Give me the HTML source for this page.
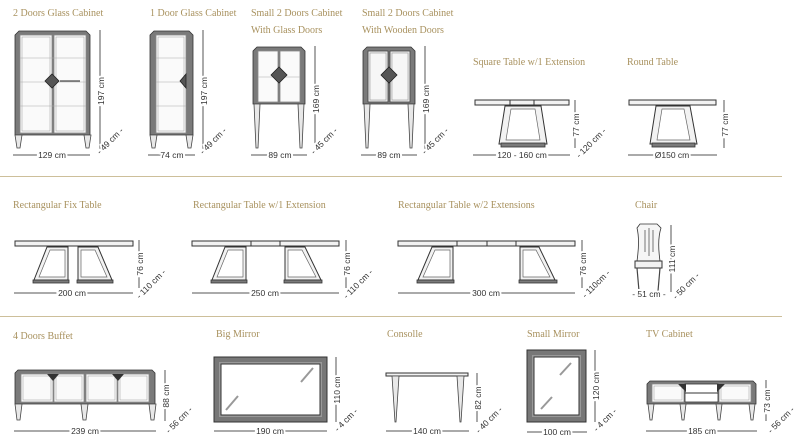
<!DOCTYPE html>
<html><head><meta charset="utf-8"><style>
html,body{margin:0;padding:0;background:#fff;}
svg{display:block}
.t{font-family:"Liberation Serif",serif;font-size:10px;fill:#a8915e;}
.d{font-family:"Liberation Sans",sans-serif;font-size:8.5px;fill:#333;stroke:#fff;stroke-width:4px;paint-order:stroke;}
.dl{stroke:#555;stroke-width:1;fill:none;}
.o{stroke:#333;stroke-width:1;fill:#f2f2f2;}
.k{fill:#7a7a7a;stroke:#333;stroke-width:.8;}
.g{fill:#fafafa;stroke:#888;stroke-width:.8;}
.l{fill:#e8e8e8;stroke:#444;stroke-width:.8;}
</style></head><body>
<svg width="800" height="446" viewBox="0 0 800 446" xmlns="http://www.w3.org/2000/svg">
<line x1="0" y1="176.5" x2="782" y2="176.5" stroke="#cdbf9a" stroke-width="1"/>
<line x1="0" y1="316.5" x2="782" y2="316.5" stroke="#cdbf9a" stroke-width="1"/>

<text class="t" x="13" y="16">2 Doors Glass Cabinet</text>
<text class="t" x="150" y="16">1 Door Glass Cabinet</text>
<text class="t" x="251" y="16">Small  2 Doors Cabinet</text>
<text class="t" x="251" y="33">With Glass Doors</text>
<text class="t" x="362" y="16">Small  2 Doors Cabinet</text>
<text class="t" x="362" y="33">With Wooden Doors</text>
<text class="t" x="473" y="65">Square Table w/1 Extension</text>
<text class="t" x="627" y="65">Round Table</text>

<polygon class="k" points="15,35 19,31 86,31 90,35 90,135 15,135"/>
<rect class="g" x="20" y="35" width="32" height="98"/>
<rect class="g" x="54" y="35" width="32" height="98"/>
<rect x="22" y="37" width="28" height="94" fill="none" stroke="#aaa" stroke-width=".6"/>
<rect x="56" y="37" width="28" height="94" fill="none" stroke="#aaa" stroke-width=".6"/>
<line x1="20" y1="58" x2="86" y2="58" stroke="#aaa" stroke-width=".6"/>
<line x1="20" y1="82" x2="86" y2="82" stroke="#aaa" stroke-width=".6"/>
<line x1="20" y1="106" x2="86" y2="106" stroke="#aaa" stroke-width=".6"/>
<line x1="60" y1="81" x2="80" y2="81" stroke="#222" stroke-width="1"/>
<polygon points="45,81 52,74 59,81 52,88" fill="#555" stroke="#222" stroke-width=".8"/>
<polygon class="l" points="15,135 22,135 20,148 17,148"/>
<polygon class="l" points="84,135 91,135 89,148 86,148"/>
<line class="dl" x1="100" y1="30" x2="100" y2="150"/>
<text class="d" transform="translate(104,91) rotate(-90)" text-anchor="middle">197 cm</text>
<line class="dl" x1="13" y1="155" x2="90" y2="155"/>
<text class="d" x="52" y="158" text-anchor="middle">129 cm</text>
<text class="d" transform="translate(112,143) rotate(-45)" text-anchor="middle">- 49 cm -</text>

<polygon class="k" points="150,35 154,31 189,31 193,35 193,135 150,135"/>
<rect class="g" x="156" y="35" width="30" height="98"/>
<rect x="158" y="37" width="26" height="94" fill="none" stroke="#aaa" stroke-width=".6"/>
<line x1="156" y1="58" x2="186" y2="58" stroke="#aaa" stroke-width=".6"/>
<line x1="156" y1="82" x2="186" y2="82" stroke="#aaa" stroke-width=".6"/>
<line x1="156" y1="106" x2="186" y2="106" stroke="#aaa" stroke-width=".6"/>
<polygon points="180,81 186,74 186,88" fill="#555" stroke="#222" stroke-width=".8"/>
<polygon class="l" points="150,135 157,135 155,148 152,148"/>
<polygon class="l" points="186,135 193,135 191,148 188,148"/>
<line class="dl" x1="203" y1="30" x2="203" y2="150"/>
<text class="d" transform="translate(207,91) rotate(-90)" text-anchor="middle">197 cm</text>
<line class="dl" x1="148" y1="155" x2="195" y2="155"/>
<text class="d" x="172" y="158" text-anchor="middle">74 cm</text>
<text class="d" transform="translate(215,143) rotate(-45)" text-anchor="middle">- 49 cm -</text>

<polygon class="k" points="253,51 257,47 301,47 305,51 305,104 253,104"/>
<rect class="g" x="258" y="51" width="20" height="51"/>
<rect class="g" x="280" y="51" width="20" height="51"/>
<line x1="258" y1="77" x2="300" y2="77" stroke="#aaa" stroke-width=".6"/>
<polygon points="271,75 279,67 287,75 279,83" fill="#555" stroke="#222" stroke-width=".8"/>
<polygon class="l" points="254,104 260,104 258,148 256,148"/>
<polygon class="l" points="298,104 304,104 302,148 300,148"/>
<line class="dl" x1="315" y1="46" x2="315" y2="150"/>
<text class="d" transform="translate(319,99) rotate(-90)" text-anchor="middle">169 cm</text>
<line class="dl" x1="251" y1="155" x2="307" y2="155"/>
<text class="d" x="280" y="158" text-anchor="middle">89 cm</text>
<text class="d" transform="translate(326,143) rotate(-45)" text-anchor="middle">- 45 cm -</text>

<polygon class="k" points="363,51 367,47 411,47 415,51 415,104 363,104"/>
<rect class="l" x="368" y="51" width="20" height="51"/>
<rect class="l" x="390" y="51" width="20" height="51"/>
<rect x="370" y="53" width="16" height="47" fill="#f6f6f6" stroke="#999" stroke-width=".6"/>
<rect x="392" y="53" width="16" height="47" fill="#f6f6f6" stroke="#999" stroke-width=".6"/>
<polygon points="381,75 389,67 397,75 389,83" fill="#555" stroke="#222" stroke-width=".8"/>
<polygon class="l" points="364,104 370,104 368,148 366,148"/>
<polygon class="l" points="408,104 414,104 412,148 410,148"/>
<line class="dl" x1="425" y1="46" x2="425" y2="150"/>
<text class="d" transform="translate(429,99) rotate(-90)" text-anchor="middle">169 cm</text>
<line class="dl" x1="361" y1="155" x2="417" y2="155"/>
<text class="d" x="389" y="158" text-anchor="middle">89 cm</text>
<text class="d" transform="translate(437,143) rotate(-45)" text-anchor="middle">- 45 cm -</text>

<rect class="o" x="475" y="100" width="94" height="5"/>
<line x1="510" y1="100" x2="510" y2="105" stroke="#333"/><line x1="534" y1="100" x2="534" y2="105" stroke="#333"/>
<polygon class="o" points="505,106 541,106 547,144 499,144"/>
<polygon fill="#fff" stroke="#666" stroke-width=".7" points="511,109 535,109 540,140 506,140"/>
<rect class="k" x="501" y="143" width="44" height="4"/>
<line class="dl" x1="575" y1="100" x2="575" y2="148"/>
<text class="d" transform="translate(579,125) rotate(-90)" text-anchor="middle">77 cm</text>
<line class="dl" x1="473" y1="155" x2="570" y2="155"/>
<text class="d" x="522" y="158" text-anchor="middle">120 - 160 cm</text>
<text class="d" transform="translate(593,145) rotate(-45)" text-anchor="middle">- 120 cm -</text>

<rect class="o" x="629" y="100" width="87" height="5"/>
<polygon class="o" points="656,106 690,106 697,144 650,144"/>
<polygon fill="#fff" stroke="#666" stroke-width=".7" points="662,109 684,109 690,140 657,140"/>
<rect class="k" x="652" y="143" width="43" height="4"/>
<line class="dl" x1="724" y1="100" x2="724" y2="148"/>
<text class="d" transform="translate(728,125) rotate(-90)" text-anchor="middle">77 cm</text>
<line class="dl" x1="628" y1="155" x2="717" y2="155"/>
<text class="d" x="672" y="158" text-anchor="middle">Ø150 cm</text>

<text class="t" x="13" y="208">Rectangular Fix Table</text>
<text class="t" x="193" y="208">Rectangular Table w/1 Extension</text>
<text class="t" x="398" y="208">Rectangular Table w/2 Extensions</text>
<text class="t" x="635" y="208">Chair</text>

<rect class="o" x="15" y="241" width="118" height="5"/>
<polygon class="o" points="47,247 68,247 68,280 34,280"/>
<polygon fill="#fff" stroke="#666" stroke-width=".7" points="50,250 65,250 65,277 39,277"/>
<rect class="k" x="33" y="280" width="36" height="3"/>
<polygon class="o" points="78,247 98,247 112,280 78,280"/>
<polygon fill="#fff" stroke="#666" stroke-width=".7" points="81,250 95,250 107,277 81,277"/>
<rect class="k" x="77" y="280" width="36" height="3"/>
<line class="dl" x1="139" y1="240" x2="139" y2="288"/>
<text class="d" transform="translate(143,264) rotate(-90)" text-anchor="middle">76 cm</text>
<line class="dl" x1="14" y1="293" x2="133" y2="293"/>
<text class="d" x="72" y="296" text-anchor="middle">200 cm</text>
<text class="d" transform="translate(153,286) rotate(-45)" text-anchor="middle">- 110 cm -</text>

<rect class="o" x="192" y="241" width="147" height="5"/>
<line x1="251" y1="241" x2="251" y2="246" stroke="#333"/><line x1="280" y1="241" x2="280" y2="246" stroke="#333"/>
<polygon class="o" points="225,247 246,247 246,280 212,280"/>
<polygon fill="#fff" stroke="#666" stroke-width=".7" points="228,250 243,250 243,277 217,277"/>
<rect class="k" x="211" y="280" width="36" height="3"/>
<polygon class="o" points="285,247 305,247 321,280 285,280"/>
<polygon fill="#fff" stroke="#666" stroke-width=".7" points="288,250 302,250 316,277 288,277"/>
<rect class="k" x="284" y="280" width="38" height="3"/>
<line class="dl" x1="346" y1="240" x2="346" y2="288"/>
<text class="d" transform="translate(350,264) rotate(-90)" text-anchor="middle">76 cm</text>
<line class="dl" x1="192" y1="293" x2="339" y2="293"/>
<text class="d" x="265" y="296" text-anchor="middle">250 cm</text>
<text class="d" transform="translate(360,286) rotate(-45)" text-anchor="middle">- 110 cm -</text>

<rect class="o" x="398" y="241" width="177" height="5"/>
<line x1="457" y1="241" x2="457" y2="246" stroke="#333"/><line x1="487" y1="241" x2="487" y2="246" stroke="#333"/><line x1="516" y1="241" x2="516" y2="246" stroke="#333"/>
<polygon class="o" points="432,247 453,247 453,280 418,280"/>
<polygon fill="#fff" stroke="#666" stroke-width=".7" points="435,250 450,250 450,277 423,277"/>
<rect class="k" x="417" y="280" width="37" height="3"/>
<polygon class="o" points="520,247 539,247 555,280 520,280"/>
<polygon fill="#fff" stroke="#666" stroke-width=".7" points="523,250 536,250 550,277 523,277"/>
<rect class="k" x="519" y="280" width="38" height="3"/>
<line class="dl" x1="582" y1="240" x2="582" y2="288"/>
<text class="d" transform="translate(586,264) rotate(-90)" text-anchor="middle">76 cm</text>
<line class="dl" x1="398" y1="293" x2="575" y2="293"/>
<text class="d" x="486" y="296" text-anchor="middle">300 cm</text>
<text class="d" transform="translate(598,286) rotate(-45)" text-anchor="middle">- 110cm -</text>

<path d="M637,261 Q640,240 637,228 L640,224 L657,224 L661,228 Q657,240 660,261 Z" fill="#f6f6f6" stroke="#333" stroke-width=".8"/>
<line x1="645" y1="230" x2="645" y2="252" stroke="#555" stroke-width=".8"/>
<line x1="649" y1="228" x2="649" y2="256" stroke="#555" stroke-width=".8"/>
<line x1="653" y1="230" x2="653" y2="252" stroke="#555" stroke-width=".8"/>
<rect class="o" x="635" y="261" width="27" height="7"/>
<line x1="637" y1="268" x2="639" y2="291" stroke="#444" stroke-width="1.2"/>
<line x1="660" y1="268" x2="658" y2="291" stroke="#444" stroke-width="1.2"/>
<line class="dl" x1="671" y1="225" x2="671" y2="292"/>
<text class="d" transform="translate(675,259) rotate(-90)" text-anchor="middle">111 cm</text>
<text class="d" x="649" y="297" text-anchor="middle">- 51 cm -</text>
<text class="d" transform="translate(688,288) rotate(-45)" text-anchor="middle">- 50 cm -</text>

<text class="t" x="13" y="339">4 Doors Buffet</text>
<text class="t" x="216" y="337">Big Mirror</text>
<text class="t" x="387" y="337">Consolle</text>
<text class="t" x="527" y="337">Small Mirror</text>
<text class="t" x="646" y="337">TV Cabinet</text>

<polygon class="k" points="15,373 18,370 152,370 155,373 155,404 15,404"/>
<rect class="g" x="21" y="374" width="32" height="28"/>
<rect class="g" x="54" y="374" width="30" height="28"/>
<rect class="g" x="86" y="374" width="31" height="28"/>
<rect class="g" x="118" y="374" width="31" height="28"/>
<rect x="23" y="376" width="28" height="24" fill="none" stroke="#aaa" stroke-width=".6"/>
<rect x="56" y="376" width="26" height="24" fill="none" stroke="#aaa" stroke-width=".6"/>
<rect x="88" y="376" width="27" height="24" fill="none" stroke="#aaa" stroke-width=".6"/>
<rect x="120" y="376" width="27" height="24" fill="none" stroke="#aaa" stroke-width=".6"/>
<polygon points="47,374 59,374 53,381" fill="#333"/>
<polygon points="112,374 124,374 118,381" fill="#333"/>
<polygon class="l" points="15,404 22,404 20,420 17,420"/>
<polygon class="l" points="81,404 88,404 86,420 83,420"/>
<polygon class="l" points="149,404 156,404 154,420 151,420"/>
<line class="dl" x1="165" y1="370" x2="165" y2="421"/>
<text class="d" transform="translate(169,396) rotate(-90)" text-anchor="middle">88 cm</text>
<line class="dl" x1="14" y1="431" x2="156" y2="431"/>
<text class="d" x="85" y="434" text-anchor="middle">239 cm</text>
<text class="d" transform="translate(181,422) rotate(-45)" text-anchor="middle">- 56 cm -</text>

<rect x="214" y="357" width="113" height="65" fill="#777" stroke="#333" stroke-width="1"/>
<rect x="219" y="362" width="103" height="55" fill="#999" stroke="none"/>
<rect x="221" y="364" width="99" height="51" fill="#fff" stroke="#333" stroke-width="1"/>
<line x1="301" y1="382" x2="313" y2="368" stroke="#999" stroke-width="2"/>
<line x1="226" y1="410" x2="238" y2="396" stroke="#999" stroke-width="2"/>
<line class="dl" x1="336" y1="357" x2="336" y2="422"/>
<text class="d" transform="translate(340,390) rotate(-90)" text-anchor="middle">110 cm</text>
<line class="dl" x1="214" y1="431" x2="327" y2="431"/>
<text class="d" x="270" y="434" text-anchor="middle">190 cm</text>
<text class="d" transform="translate(348,422) rotate(-45)" text-anchor="middle">- 4 cm -</text>

<rect class="o" x="386" y="373" width="82" height="3"/>
<polygon class="l" points="392,376 399,376 396,422 395,422"/>
<polygon class="l" points="457,376 464,376 461,422 460,422"/>
<line class="dl" x1="477" y1="373" x2="477" y2="422"/>
<text class="d" transform="translate(481,398) rotate(-90)" text-anchor="middle">82 cm</text>
<line class="dl" x1="386" y1="431" x2="469" y2="431"/>
<text class="d" x="427" y="434" text-anchor="middle">140 cm</text>
<text class="d" transform="translate(491,422) rotate(-45)" text-anchor="middle">- 40 cm -</text>

<rect x="527" y="350" width="59" height="72" fill="#777" stroke="#333" stroke-width="1"/>
<rect x="532" y="355" width="49" height="62" fill="#999"/>
<rect x="534" y="357" width="45" height="58" fill="#fff" stroke="#333" stroke-width="1"/>
<line x1="560" y1="375" x2="571" y2="363" stroke="#999" stroke-width="2"/>
<line x1="541" y1="409" x2="552" y2="397" stroke="#999" stroke-width="2"/>
<line class="dl" x1="595" y1="350" x2="595" y2="422"/>
<text class="d" transform="translate(599,386) rotate(-90)" text-anchor="middle">120 cm</text>
<line class="dl" x1="527" y1="432" x2="587" y2="432"/>
<text class="d" x="557" y="435" text-anchor="middle">100 cm</text>
<text class="d" transform="translate(607,422) rotate(-45)" text-anchor="middle">- 4 cm -</text>

<polygon class="k" points="647,384 650,381 753,381 756,384 756,404 647,404"/>
<rect class="g" x="652" y="384" width="32" height="18"/>
<rect class="g" x="719" y="384" width="32" height="18"/>
<rect x="654" y="386" width="28" height="14" fill="none" stroke="#aaa" stroke-width=".6"/>
<rect x="721" y="386" width="28" height="14" fill="none" stroke="#aaa" stroke-width=".6"/>
<rect x="685" y="384" width="33" height="18" fill="#fff" stroke="#333" stroke-width=".8"/>
<line x1="685" y1="393" x2="718" y2="393" stroke="#333" stroke-width="1"/>
<polygon points="678,384 686,384 686,392" fill="#333"/>
<polygon points="717,384 725,384 717,392" fill="#333"/>
<polygon class="l" points="648,404 654,404 652,420 650,420"/>
<polygon class="l" points="680,404 686,404 684,420 682,420"/>
<polygon class="l" points="716,404 722,404 720,420 718,420"/>
<polygon class="l" points="749,404 755,404 753,420 751,420"/>
<line class="dl" x1="766" y1="380" x2="766" y2="421"/>
<text class="d" transform="translate(770,401) rotate(-90)" text-anchor="middle">73 cm</text>
<line class="dl" x1="646" y1="431" x2="757" y2="431"/>
<text class="d" x="702" y="434" text-anchor="middle">185 cm</text>
<text class="d" transform="translate(783,422) rotate(-45)" text-anchor="middle">- 56 cm -</text>
</svg>
</body></html>
